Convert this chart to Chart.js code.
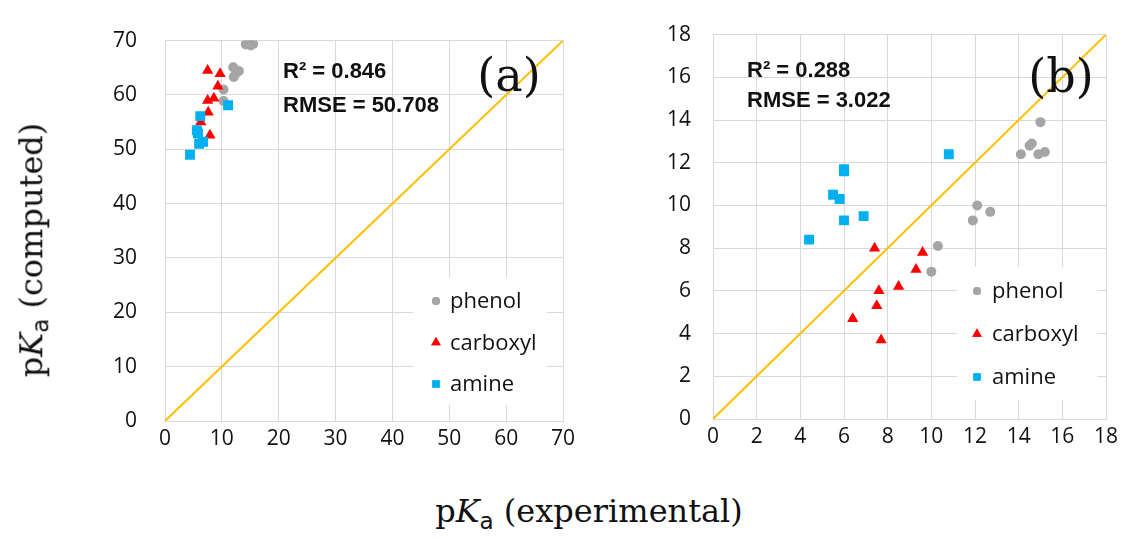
<!DOCTYPE html>
<html>
<head>
<meta charset="utf-8">
<script src="https://cdn.jsdelivr.net/npm/chart.js@4/dist/chart.umd.min.js"></script>
<style>
  html, body { margin: 0; padding: 0; background: #fff; }
  #wrap { position: relative; width: 1126px; height: 541px; overflow: hidden; }
  .box { position: absolute; top: 0; height: 470px; }
  .title { position: absolute; font-family: "DejaVu Serif", "Liberation Serif", serif; font-size: 32px; color: #111; white-space: nowrap; transform: translate(-50%, -50%); }
  .title sub { font-size: 0.72em; vertical-align: -0.28em; font-family: "DejaVu Sans", sans-serif; }
</style>
</head>
<body>
<div id="wrap">
  <div class="box" style="left:0; width:585px;"><canvas id="chartA"></canvas></div>
  <div class="box" style="left:585px; width:541px;"><canvas id="chartB"></canvas></div>
  <div class="title" style="left:589px; top:513px;">p<i>K</i><sub>a</sub> (experimental)</div>
  <div class="title" style="left:33px; top:250px; transform: translate(-50%, -50%) rotate(-90deg);">p<i>K</i><sub>a</sub> (computed)</div>
</div>
<script>
// ---------- données ----------
// (a)
const phenolA_x   = [14.2, 14.9, 15.5, 15.1, 12.0, 12.5, 12.1, 13.0, 10.3, 10.3];
const phenolA_y   = [69.3, 69.5, 69.4, 69.1, 65.1, 64.0, 63.3, 64.4, 61.0, 58.9];
const carboxylA_x = [7.5, 9.7, 9.3, 8.6, 7.5, 7.6, 6.3, 7.9];
const carboxylA_y = [64.5, 63.9, 61.6, 59.4, 59.0, 56.8, 55.0, 52.6];
const amineA_x    = [11.1, 6.2, 5.6, 5.8, 6.7, 6.0, 4.4];
const amineA_y    = [58.1, 56.1, 53.5, 52.9, 51.4, 51.0, 49.0];
const statsA      = ["R\u00B2 = 0.846", "RMSE = 50.708"];
const maxA = 70, stepA = 10;

// (b)
const phenolB_x   = [15.0, 14.6, 14.5, 14.1, 14.9, 15.2, 12.1, 12.7, 11.9, 10.3, 10.0];
const phenolB_y   = [13.9, 12.9, 12.8, 12.4, 12.4, 12.5, 10.0, 9.7, 9.3, 8.1, 6.9];
const carboxylB_x = [7.4, 9.6, 9.3, 8.5, 7.6, 7.5, 6.4, 7.7];
const carboxylB_y = [8.0, 7.8, 7.0, 6.2, 6.0, 5.3, 4.7, 3.7];
const amineB_x    = [6.0, 6.0, 5.5, 5.8, 6.0, 6.9, 4.4, 10.8];
const amineB_y    = [11.7, 11.6, 10.5, 10.3, 9.3, 9.5, 8.4, 12.4];
const statsB      = ["R\u00B2 = 0.288", "RMSE = 3.022"];
const maxB = 18, stepB = 2;

const seriesNames = ["phenol", "carboxyl", "amine"];

// ---------- styles ----------
const GRID = "#D9D9D9";
const COLORS = { phenol: "#A5A5A5", carboxyl: "#FF0000", amine: "#00B0F0" };
const STYLES = { phenol: "circle", carboxyl: "triangle", amine: "rect" };
const RADII  = { phenol: 5, carboxyl: 6.5, amine: 7 };
const LEG_RADII = { phenol: 4, carboxyl: 5.5, amine: 5.2 };

function pts(xs, ys) {
  return xs.map((x, i) => ({ x: x, y: ys[i] }));
}

// légende dans la zone de tracé + textes R² / RMSE + (a)/(b)
const notesPlugin = {
  id: "notes",
  afterDraw(chart, args, opts) {
    const ctx = chart.ctx;
    ctx.save();
    // légende avec fond blanc
    const L = opts.legend;
    ctx.fillStyle = "#fff";
    ctx.fillRect(L.x, L.y, L.w, L.h);
    seriesNames.forEach((name, i) => {
      const y = L.y0 + i * L.dy;
      ctx.fillStyle = COLORS[name];
      ctx.beginPath();
      Chart.helpers.drawPoint(ctx, {
        pointStyle: STYLES[name], radius: LEG_RADII[name], rotation: 0, borderWidth: 0
      }, L.mx, y);
      ctx.fill();
      ctx.fillStyle = "#111";
      ctx.font = "22px 'Open Sans', sans-serif";
      ctx.textAlign = "left";
      ctx.textBaseline = "middle";
      ctx.fillText(name, L.tx, y + 1);
    });
    // statistiques
    const S = opts.stats;
    ctx.font = "bold 22px 'Liberation Sans', Arial, sans-serif";
    ctx.fillStyle = "#111";
    ctx.textBaseline = "alphabetic";
    S.lines.forEach((t, i) => ctx.fillText(t, S.x, S.y[i]));
    // étiquette du panneau
    const P = opts.panel;
    ctx.font = "46px 'DejaVu Serif', serif";
    ctx.textAlign = "center";
    ctx.textBaseline = "middle";
    ctx.fillText(P.text, P.x, P.y);
    ctx.restore();
  }
};

function makeChart(id, data, max, step, layout) {
  const sets = [
    { name: "phenol",   d: data.phenol,   order: 3 },
    { name: "carboxyl", d: data.carboxyl, order: 2 },
    { name: "amine",    d: data.amine,    order: 1 }
  ].map(s => ({
    type: "scatter",
    label: s.name,
    data: s.d,
    order: s.order,
    pointStyle: STYLES[s.name],
    pointRadius: RADII[s.name],
    pointHoverRadius: RADII[s.name],
    backgroundColor: COLORS[s.name],
    borderColor: COLORS[s.name],
    borderWidth: 0
  }));

  sets.push({
    type: "line",
    label: "y = x",
    data: [{ x: 0, y: 0 }, { x: max, y: max }],
    borderColor: "#FFC000",
    borderWidth: 2,
    pointRadius: 0,
    order: 4
  });

  const tickFont = { family: "'Open Sans', sans-serif", size: 21 };

  return new Chart(document.getElementById(id), {
    type: "scatter",
    data: { datasets: sets },
    plugins: [notesPlugin],
    options: {
      responsive: true,
      maintainAspectRatio: false,
      animation: false,
      layout: { padding: { left: 0, right: layout.padRight, top: layout.padTop, bottom: 0 } },
      plugins: {
        legend: { display: false },
        tooltip: { enabled: false },
        notes: layout.notes
      },
      scales: {
        x: {
          type: "linear", min: 0, max: max,
          ticks: { stepSize: step, color: "#111", font: tickFont, padding: 5 },
          grid: { color: GRID, drawTicks: false },
          border: { color: GRID },
          afterFit: s => { s.height = layout.xHeight; }
        },
        y: {
          type: "linear", min: 0, max: max,
          ticks: { stepSize: step, color: "#111", font: tickFont, padding: layout.yPad },
          grid: { color: GRID, drawTicks: false },
          border: { color: GRID },
          afterFit: s => { s.width = layout.yWidth; }
        }
      }
    }
  });
}

makeChart("chartA",
  { phenol: pts(phenolA_x, phenolA_y), carboxyl: pts(carboxylA_x, carboxylA_y), amine: pts(amineA_x, amineA_y) },
  maxA, stepA,
  {
    padRight: 22, padTop: 32, xHeight: 49, yWidth: 165, yPad: 28,
    notes: {
      legend: { x: 413, y: 277, w: 134, h: 128, mx: 436, tx: 450, y0: 301, dy: 41.5 },
      stats: { lines: statsA, x: 283, y: [78, 112] },
      panel: { text: "(a)", x: 509, y: 79 }
    }
  });

makeChart("chartB",
  { phenol: pts(phenolB_x, phenolB_y), carboxyl: pts(carboxylB_x, carboxylB_y), amine: pts(amineB_x, amineB_y) },
  maxB, stepB,
  {
    padRight: 20, padTop: 26, xHeight: 51, yWidth: 128, yPad: 22,
    notes: {
      legend: { x: 372, y: 267, w: 140, h: 133, mx: 392, tx: 407, y0: 291, dy: 43 },
      stats: { lines: statsB, x: 162, y: [77, 107] },
      panel: { text: "(b)", x: 476, y: 80 }
    }
  });
</script>
</body>
</html>
